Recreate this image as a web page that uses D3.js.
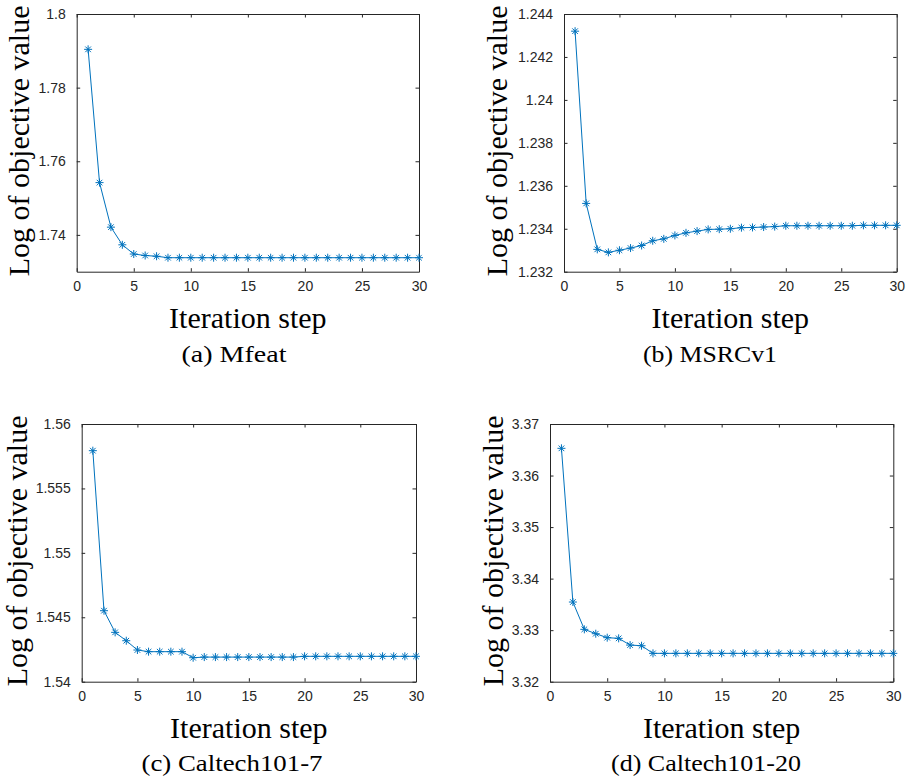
<!DOCTYPE html>
<html>
<head>
<meta charset="utf-8">
<script src="https://cdn.jsdelivr.net/npm/d3@7"></script>
<style>
  html, body { margin: 0; padding: 0; background: #fff; }
  svg { display: block; }
</style>
</head>
<body>
<svg id="chart" width="910" height="782"></svg>
<script>
// ---------- data ----------
const steps = [1,2,3,4,5,6,7,8,9,10,11,12,13,14,15,16,17,18,19,20,21,22,23,24,25,26,27,28,29,30];

const mfeat = [1.7904, 1.7542, 1.7421, 1.7373, 1.7348, 1.7344, 1.7342,
  1.7338, 1.7338, 1.7338, 1.7338, 1.7338, 1.7338, 1.7338, 1.7338, 1.7338,
  1.7338, 1.7338, 1.7338, 1.7338, 1.7338, 1.7338, 1.7338, 1.7338, 1.7338,
  1.7338, 1.7338, 1.7338, 1.7338, 1.7338];

const msrcv1 = [1.2432, 1.23518, 1.23304, 1.2329, 1.2330, 1.2331, 1.23322,
  1.23344, 1.23353, 1.23369, 1.23381, 1.23389, 1.23397, 1.23398, 1.2340,
  1.23405, 1.23406, 1.23408, 1.2341, 1.23414, 1.23414, 1.23414, 1.23414,
  1.23414, 1.23414, 1.23414, 1.23416, 1.23416, 1.23416, 1.23416];

const caltech7 = [1.55793, 1.54551, 1.54383, 1.54318, 1.54246, 1.54233,
  1.54233, 1.54233, 1.54233, 1.54186, 1.54191, 1.54191, 1.54191, 1.54191,
  1.54191, 1.54191, 1.54191, 1.54191, 1.54191, 1.54197, 1.54197, 1.54197,
  1.54197, 1.54197, 1.54197, 1.54197, 1.54197, 1.54197, 1.54197, 1.54197];

const caltech20 = [3.36528, 3.33546, 3.33016, 3.32931, 3.32854, 3.32841,
  3.32711, 3.32698, 3.3255, 3.3255, 3.3255, 3.3255, 3.3255, 3.3255, 3.3255,
  3.3255, 3.3255, 3.3255, 3.3255, 3.3255, 3.3255, 3.3255, 3.3255, 3.3255,
  3.3255, 3.3255, 3.3255, 3.3255, 3.3255, 3.3255];

const xTicks = [0, 5, 10, 15, 20, 25, 30];
const yTicksA = [1.74, 1.76, 1.78, 1.8];
const yTicksB = [1.232, 1.234, 1.236, 1.238, 1.24, 1.242, 1.244];
const yTicksC = [1.54, 1.545, 1.55, 1.555, 1.56];
const yTicksD = [3.32, 3.33, 3.34, 3.35, 3.36, 3.37];

const yDomainA = [1.73, 1.8];
const yDomainB = [1.232, 1.244];
const yDomainC = [1.54, 1.56];
const yDomainD = [3.32, 3.37];

const captions = ["(a) Mfeat", "(b) MSRCv1", "(c) Caltech101-7", "(d) Caltech101-20"];
const xLabel = "Iteration step";
const yLabel = "Log of objective value";

// ---------- layout ----------
const panels = [
  { values: mfeat, yTicks: yTicksA, yDomain: yDomainA, caption: captions[0],
    box: { l: 76.7, t: 14, r: 419, b: 271.7 }, ylabX: 29, capX: 234, capY: 362, capW: 105, xlabY: 328 },
  { values: msrcv1, yTicks: yTicksB, yDomain: yDomainB, caption: captions[1],
    box: { l: 564, t: 14, r: 896.7, b: 271.7 }, ylabX: 507, capX: 710, capY: 362, capW: 134, xlabY: 328 },
  { values: caltech7, yTicks: yTicksC, yDomain: yDomainC, caption: captions[2],
    box: { l: 81.7, t: 424, r: 416, b: 681.7 }, ylabX: 27, capX: 232, capY: 771, capW: 181, xlabY: 738 },
  { values: caltech20, yTicks: yTicksD, yDomain: yDomainD, caption: captions[3],
    box: { l: 550, t: 424, r: 893.3, b: 681.7 }, ylabX: 503, capX: 706, capY: 771, capW: 190, xlabY: 738 }
];

const axisColor = "#262626";
const lineColor = "#0072BD";
const tickLen = 3.5;
const tickFont = "'Liberation Sans', Arial, Helvetica, sans-serif";
const serifFont = "'Liberation Serif', 'Times New Roman', Times, serif";

const svg = d3.select("#chart");

panels.forEach(p => {
  const { l, t, r, b } = p.box;
  const x = d3.scaleLinear().domain([0, 30]).range([l, r]);
  const y = d3.scaleLinear().domain(p.yDomain).range([b, t]);
  const g = svg.append("g");

  const fmt = v => String(+v.toFixed(4));

  const bottom = g.append("g").attr("transform", `translate(0,${b})`)
    .call(d3.axisBottom(x).tickValues(xTicks).tickSizeInner(-tickLen).tickSizeOuter(0).tickPadding(9).tickFormat(fmt));
  const top = g.append("g").attr("transform", `translate(0,${t})`)
    .call(d3.axisTop(x).tickValues(xTicks).tickSizeInner(-tickLen).tickSizeOuter(0).tickFormat(""));
  const left = g.append("g").attr("transform", `translate(${l},0)`)
    .call(d3.axisLeft(y).tickValues(p.yTicks).tickSizeInner(-tickLen).tickSizeOuter(0).tickPadding(11).tickFormat(fmt));
  const right = g.append("g").attr("transform", `translate(${r},0)`)
    .call(d3.axisRight(y).tickValues(p.yTicks).tickSizeInner(-tickLen).tickSizeOuter(0).tickFormat(""));

  [bottom, top, left, right].forEach(a => {
    a.select(".domain").attr("stroke", axisColor).attr("stroke-width", 1);
    a.selectAll(".tick line").attr("stroke", axisColor).attr("stroke-width", 1);
    a.selectAll(".tick text").attr("fill", axisColor)
      .style("font-family", tickFont).style("font-size", "14px");
  });

  const pts = steps.map((s, i) => [s, p.values[i]]);
  g.append("path")
    .datum(pts)
    .attr("fill", "none")
    .attr("stroke", lineColor)
    .attr("stroke-width", 1)
    .attr("d", d3.line().x(d => x(d[0])).y(d => y(d[1])));

  const ms = 4;
  const star = `M${-ms},0L${ms},0M0,${-ms}L0,${ms}M${-ms*0.7},${-ms*0.7}L${ms*0.7},${ms*0.7}M${-ms*0.7},${ms*0.7}L${ms*0.7},${-ms*0.7}`;
  g.append("g").selectAll("path")
    .data(pts)
    .join("path")
    .attr("transform", d => `translate(${x(d[0])},${y(d[1])})`)
    .attr("d", star)
    .attr("fill", "none")
    .attr("stroke", lineColor)
    .attr("stroke-width", 1);

  g.append("text")
    .attr("x", (l + r) / 2)
    .attr("y", p.xlabY)
    .attr("text-anchor", "middle")
    .attr("fill", "#000")
    .style("font-family", serifFont)
    .style("font-size", "30px")
    .text(xLabel);

  g.append("text")
    .attr("transform", `translate(${p.ylabX},${(t + b) / 2 - 2}) rotate(-90)`)
    .attr("text-anchor", "middle")
    .attr("fill", "#000")
    .style("font-family", serifFont)
    .style("font-size", "30px")
    .text(yLabel);

  g.append("text")
    .attr("x", p.capX - p.capW / 2)
    .attr("y", p.capY)
    .attr("textLength", p.capW)
    .attr("lengthAdjust", "spacingAndGlyphs")
    .attr("fill", "#000")
    .style("font-family", serifFont)
    .style("font-size", "23px")
    .text(p.caption);
});
</script>
</body>
</html>
